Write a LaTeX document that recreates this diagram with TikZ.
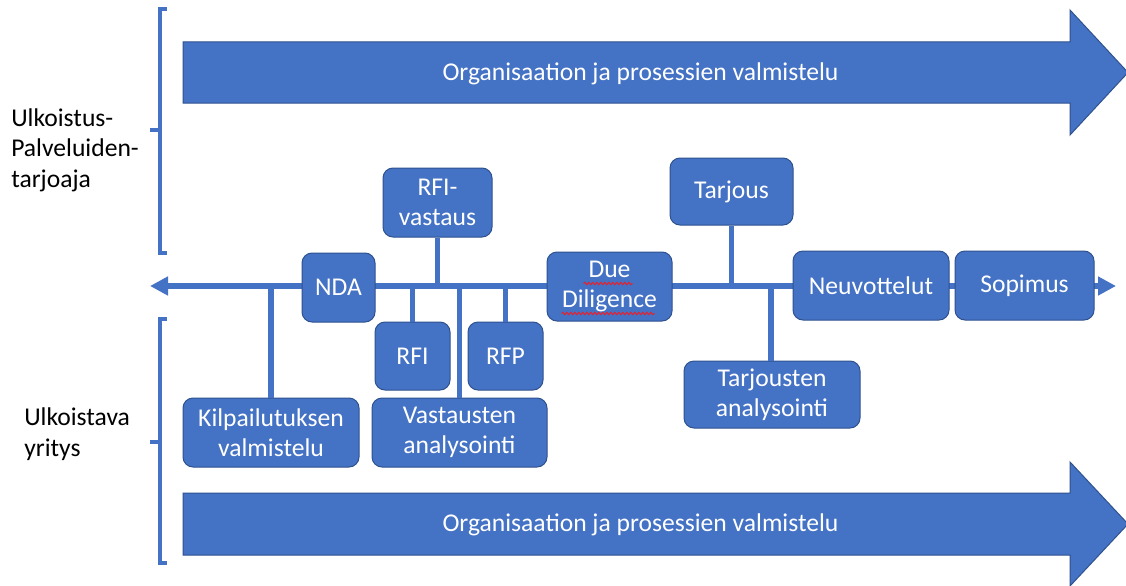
\documentclass[tikz,border=0pt]{standalone}
\usepackage{fontspec}
\setmainfont{Carlito}
\usetikzlibrary{arrows.meta,decorations.pathmorphing,calc}
\definecolor{boxblue}{HTML}{4472C4}
\definecolor{boxedge}{HTML}{2F528F}
\definecolor{squig}{HTML}{E8202A}
\begin{document}
\begin{tikzpicture}[x=0.75pt,y=-0.75pt,
  every node/.style={font=\fontsize{19.2}{22.8}\selectfont},
  pbox/.style={rectangle,rounded corners=7.5pt,fill=boxblue,draw=boxedge,line width=0.75pt,
    text=white,align=center,inner sep=0pt},
  bigarrow/.style={fill=boxblue,draw=boxedge,line width=0.75pt},
  bracket/.style={draw=boxblue,line width=3pt},
  tline/.style={draw=boxblue,line width=4pt},
  conn/.style={draw=boxblue,line width=4pt},
  side/.style={align=left,anchor=west,text=black,inner sep=0pt},
  squiggle/.style={draw=squig,line width=0.75pt,decorate,
    decoration={snake,amplitude=0.9pt,segment length=3pt}}
]
\useasboundingbox (0,0) rectangle (1126,585);
\fill[white] (0,0) rectangle (1126,585);

% big arrows
\draw[bigarrow] (183,42) -- (1070,42) -- (1070,10) -- (1128,72.5) -- (1070,135) -- (1070,103) -- (183,103) -- cycle;
\node[text=white] (toparrow) at (640.5,73.5) {Organisaation ja prosessien valmistelu};
\draw[bigarrow] (183,493) -- (1070,493) -- (1070,462) -- (1128,524) -- (1070,586) -- (1070,555) -- (183,555) -- cycle;
\node[text=white] (botarrow) at (640.5,525) {Organisaation ja prosessien valmistelu};

% brackets
\draw[bracket] (167,9) -- (160,9) -- (160,253) -- (167,253);
\draw[bracket] (160,130) -- (150,130);
\draw[bracket] (167,319) -- (160,319) -- (160,563) -- (167,563);
\draw[bracket] (160,442) -- (150,442);

% side labels
\node[side] (prov) at (11,150) {Ulkoistus-\\Palveluiden-\\tarjoaja};
\node[side] (cust) at (24,434) {Ulkoistava\\yritys};

% timeline
\coordinate (tl) at (150,286);
\coordinate (tr) at (1116,286);
\draw[tline,{Triangle[length=13.5pt,width=13.5pt]}-{Triangle[length=13.5pt,width=13.5pt]}] (tl) -- (tr);

% boxes
\node[pbox,minimum width=73*0.75pt,minimum height=69*0.75pt] (nda) at (338.5,287.5) {NDA};
\node[pbox,minimum width=109*0.75pt,minimum height=69*0.75pt] (rfiv) at (437.5,202.5) {RFI-\\vastaus};
\node[pbox,minimum width=75*0.75pt,minimum height=68*0.75pt] (rfi) at (412.5,356) {RFI};
\node[pbox,minimum width=75*0.75pt,minimum height=68*0.75pt] (rfp) at (505.5,356) {RFP};
\node[pbox,minimum width=176*0.75pt,minimum height=69*0.75pt] (kilp) at (271,432.5) {Kilpailutuksen\\valmistelu};
\node[pbox,minimum width=175*0.75pt,minimum height=69*0.75pt] (vast) at (459.5,432.5) {Vastausten\\analysointi};
\node[pbox,minimum width=125*0.75pt,minimum height=69*0.75pt] (dd) at (609.5,286.5) {\raisebox{-2pt}{\begin{tabular}{@{}c@{}}Due\\Diligence\end{tabular}}};
\node[pbox,minimum width=123*0.75pt,minimum height=67*0.75pt] (tarj) at (731.5,191.5) {Tarjous};
\node[pbox,minimum width=176*0.75pt,minimum height=67*0.75pt] (tarja) at (772,394.5) {Tarjousten\\analysointi};
\node[pbox,minimum width=156*0.75pt,minimum height=69*0.75pt] (neuv) at (871,285.5) {Neuvottelut};
\node[pbox,minimum width=139*0.75pt,minimum height=69*0.75pt] (sop) at (1024.5,285.5) {Sopimus};

% connectors
\draw[conn] (kilp.north) -- (kilp.north |- tl);
\draw[conn] (rfi.north) -- (rfi.north |- tl);
\draw[conn] (rfiv.south) -- (rfiv.south |- tl);
\draw[conn] (vast.north) -- (vast.north |- tl);
\draw[conn] (rfp.north) -- (rfp.north |- tl);
\draw[conn] (tarj.south) -- (tarj.south |- tl);
\draw[conn] ([xshift=-0.75pt]tarja.north) -- ([xshift=-0.75pt]tarja.north |- tl);

% spell-check squiggles
\draw[squiggle] ($(dd.center)+(-26,-3)$) -- ($(dd.center)+(23,-3)$);
\draw[squiggle] ($(dd.center)+(-48,27)$) -- ($(dd.center)+(45,27)$);
\end{tikzpicture}
\end{document}
